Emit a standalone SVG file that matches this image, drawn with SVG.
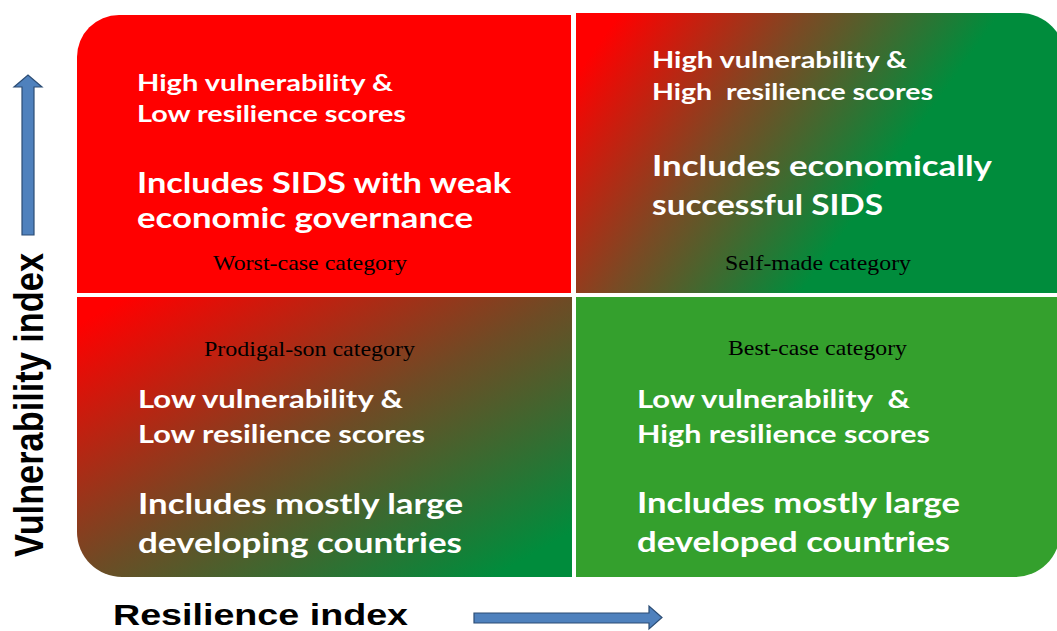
<svg xmlns="http://www.w3.org/2000/svg" width="1057" height="631" viewBox="0 0 1057 631">
<style>
.w{fill:#fff;font-family:Lato,"Open Sans","Liberation Sans",sans-serif;font-weight:700}
.s{font-size:23px}
.s2{font-size:24px}
.l{font-size:28px}
.c{fill:#000;font-family:"Liberation Serif","Times New Roman",serif;font-size:21px}
.ax{fill:#000;font-family:"Liberation Sans",Arial,sans-serif;font-weight:700}
.arr{fill:#4F81BD;stroke:#2C4D75;stroke-width:1.2}
</style>
<defs>
<linearGradient id="gTR" gradientUnits="userSpaceOnUse" x1="620" y1="13" x2="872" y2="193">
<stop offset="0" stop-color="#FF0000"/>
<stop offset="0.5" stop-color="#7A4A24"/>
<stop offset="1" stop-color="#008C3C"/>
</linearGradient>
<linearGradient id="gBL" x1="0" y1="0" x2="1" y2="1">
<stop offset="0.05" stop-color="#FF0000"/>
<stop offset="0.5" stop-color="#6E4B25"/>
<stop offset="0.92" stop-color="#008C3C"/>
</linearGradient>
</defs>
<rect width="1057" height="631" fill="#fff"/>
<g id="worst-case">
<path d="M77,293 V57 A42,42 0 0 1 119,15 H571 V293 Z" fill="#FF0000"/>
<text class="w s" x="137" y="91" textLength="256" lengthAdjust="spacingAndGlyphs">High vulnerability &amp;</text>
<text class="w s" x="137" y="122" textLength="269" lengthAdjust="spacingAndGlyphs">Low resilience scores</text>
<text class="w l" x="137" y="193" textLength="374" lengthAdjust="spacingAndGlyphs">Includes SIDS with weak</text>
<text class="w l" x="137" y="228" textLength="336" lengthAdjust="spacingAndGlyphs">economic governance</text>
<text class="c" x="213" y="270" textLength="194" lengthAdjust="spacingAndGlyphs">Worst-case category</text>
</g>
<g id="self-made">
<path d="M576,13 H1020 A45,45 0 0 1 1065,58 V293 H576 Z" fill="url(#gTR)"/>
<text class="w s" x="652" y="68" textLength="255" lengthAdjust="spacingAndGlyphs">High vulnerability &amp;</text>
<text class="w s" x="652" y="100" textLength="281" lengthAdjust="spacingAndGlyphs" xml:space="preserve">High  resilience scores</text>
<text class="w l" x="652" y="176" textLength="340" lengthAdjust="spacingAndGlyphs">Includes economically</text>
<text class="w l" x="652" y="215" textLength="231" lengthAdjust="spacingAndGlyphs">successful SIDS</text>
<text class="c" x="725" y="270" textLength="186" lengthAdjust="spacingAndGlyphs">Self-made category</text>
</g>
<g id="prodigal-son">
<path d="M77,297 H572 V577 H122 A45,45 0 0 1 77,532 Z" fill="url(#gBL)"/>
<text class="c" x="204" y="356" textLength="211" lengthAdjust="spacingAndGlyphs">Prodigal-son category</text>
<text class="w s2" x="138" y="408" textLength="265" lengthAdjust="spacingAndGlyphs">Low vulnerability &amp;</text>
<text class="w s2" x="138" y="443" textLength="287" lengthAdjust="spacingAndGlyphs">Low resilience scores</text>
<text class="w l" x="138" y="514" textLength="325" lengthAdjust="spacingAndGlyphs">Includes mostly large</text>
<text class="w l" x="138" y="553" textLength="324" lengthAdjust="spacingAndGlyphs">developing countries</text>
</g>
<g id="best-case">
<path d="M576,297 H1060 V532 A45,45 0 0 1 1015,577 H576 Z" fill="#34A02D"/>
<text class="c" x="728" y="355" textLength="179" lengthAdjust="spacingAndGlyphs">Best-case category</text>
<text class="w s2" x="637" y="408" textLength="273" lengthAdjust="spacingAndGlyphs" xml:space="preserve">Low vulnerability  &amp;</text>
<text class="w s2" x="637" y="443" textLength="293" lengthAdjust="spacingAndGlyphs">High resilience scores</text>
<text class="w l" x="637" y="513" textLength="323" lengthAdjust="spacingAndGlyphs">Includes mostly large</text>
<text class="w l" x="637" y="552" textLength="313" lengthAdjust="spacingAndGlyphs">developed countries</text>
</g>
<g id="axes">
<polygon class="arr" points="22,235 34,235 34,87 42,87 28,75 14,87 22,87"/>
<polygon class="arr" points="474,613 649,613 649,606 662,617.5 649,629 649,623 474,623"/>
<text class="ax" font-size="40" transform="translate(43,557) rotate(-90)" textLength="304" lengthAdjust="spacingAndGlyphs">Vulnerability index</text>
<text class="ax" font-size="30" x="113" y="625" textLength="295" lengthAdjust="spacingAndGlyphs">Resilience index</text>
</g>
</svg>
